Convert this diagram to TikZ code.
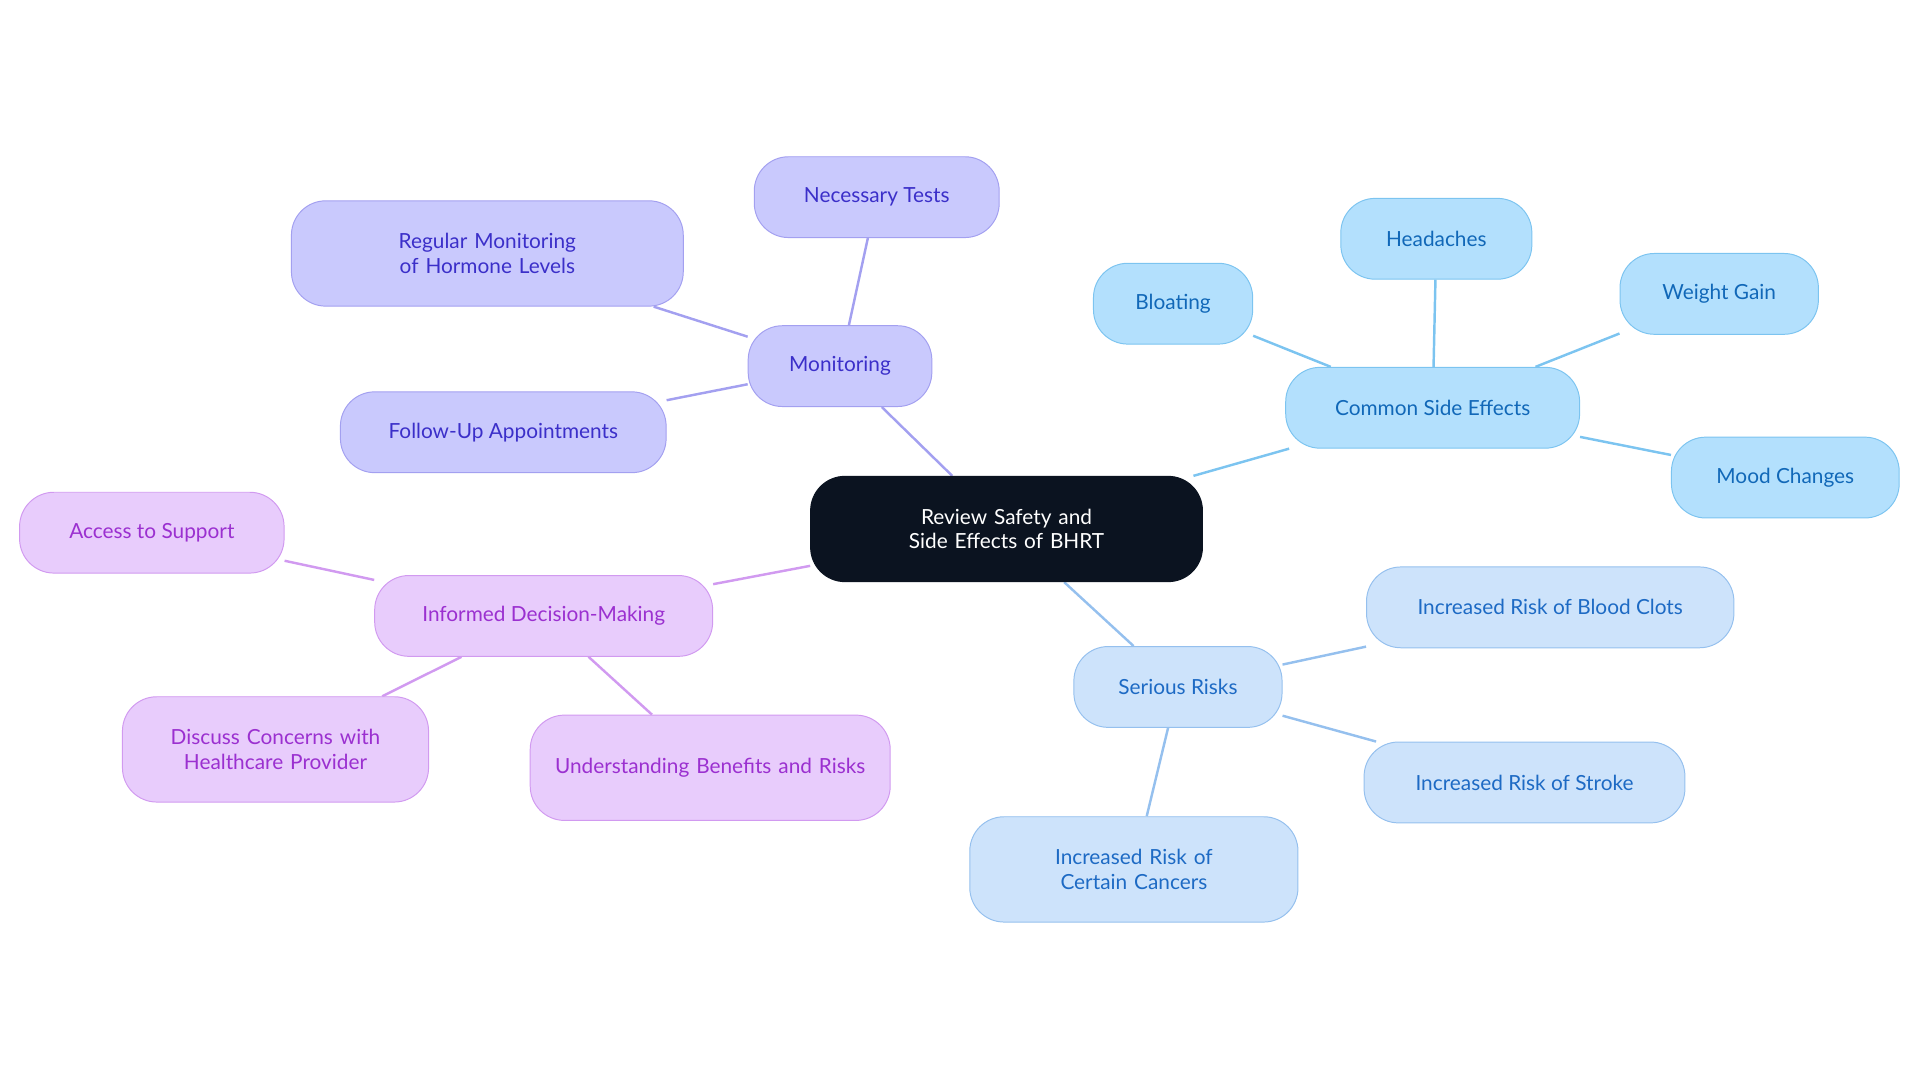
\documentclass[tikz,border=0pt]{standalone}
\usepackage{fontspec}
\setmainfont{Lato}
\usetikzlibrary{backgrounds}
\definecolor{rootf}{HTML}{0B1320}
\definecolor{pf}{HTML}{C9C9FD}\definecolor{pd}{HTML}{A3A0F0}\definecolor{pt}{HTML}{3B2FC9}
\definecolor{bf}{HTML}{B3E0FD}\definecolor{bd}{HTML}{7CC4F0}\definecolor{bt}{HTML}{1168B8}
\definecolor{sf}{HTML}{CDE3FB}\definecolor{sd}{HTML}{95C0EE}\definecolor{st}{HTML}{1D6AC4}
\definecolor{mf}{HTML}{E8CCFC}\definecolor{md}{HTML}{D19AF0}\definecolor{mt}{HTML}{9B30D0}
\tikzset{
 box/.style={rounded corners=28pt,draw,line width=0.8pt,align=center,inner sep=0pt,font=\fontsize{17}{20}\selectfont},
 pbox/.style={box,fill=pf,draw=pd,text=pt},
 bbox/.style={box,fill=bf,draw=bd,text=bt},
 sbox/.style={box,fill=sf,draw=sd,text=st},
 mbox/.style={box,fill=mf,draw=md,text=mt},
 pe/.style={draw=pd,line width=2pt},
 be/.style={draw=bd,line width=2pt},
 se/.style={draw=sd,line width=2pt},
 me/.style={draw=md,line width=2pt},
}
\begin{document}
\begin{tikzpicture}[x=1pt,y=-1pt]
\useasboundingbox (0,0) rectangle (1568,884);
\node[box,fill=rootf,draw=rootf,text=white,minimum width=320,minimum height=86,text width=290] (root) at (822,432) {Review Safety and Side Effects of BHRT};
\node[pbox,minimum width=150,minimum height=66] (mon) at (686,299) {Monitoring};
\node[pbox,minimum width=200,minimum height=66] (nt) at (716,161) {Necessary Tests};
\node[pbox,minimum width=320,minimum height=86,text width=290] (rm) at (398,207) {Regular Monitoring of Hormone Levels};
\node[pbox,minimum width=266,minimum height=66] (fu) at (411,353) {Follow-Up Appointments};
\node[bbox,minimum width=240,minimum height=66] (cse) at (1170,333) {Common Side Effects};
\node[bbox,minimum width=130,minimum height=66] (bl) at (958,248) {Bloating};
\node[bbox,minimum width=156,minimum height=66] (he) at (1173,195) {Headaches};
\node[bbox,minimum width=162,minimum height=66] (wg) at (1404,240) {Weight Gain};
\node[bbox,minimum width=186,minimum height=66] (mc) at (1458,390) {Mood Changes};
\node[sbox,minimum width=170,minimum height=66] (sr) at (962,561) {Serious Risks};
\node[sbox,minimum width=300,minimum height=66] (bc) at (1266,496) {Increased Risk of Blood Clots};
\node[sbox,minimum width=262,minimum height=66] (str) at (1245,639) {Increased Risk of Stroke};
\node[sbox,minimum width=268,minimum height=86,text width=240] (can) at (926,710) {Increased Risk of Certain Cancers};
\node[mbox,minimum width=276,minimum height=66] (idm) at (444,503) {Informed Decision-Making};
\node[mbox,minimum width=216,minimum height=66] (acc) at (124,435) {Access to Support};
\node[mbox,minimum width=250,minimum height=86,text width=220] (dis) at (225,612) {Discuss Concerns with Healthcare Provider};
\node[mbox,minimum width=294,minimum height=86,text width=260] (und) at (580,627) {Understanding Benefits and Risks};
\begin{scope}[on background layer]
\draw[pe] (root)--(mon); \draw[pe] (mon)--(nt); \draw[pe] (mon)--(rm); \draw[pe] (mon)--(fu);
\draw[be] (root)--(cse); \draw[be] (cse)--(bl); \draw[be] (cse)--(he); \draw[be] (cse)--(wg); \draw[be] (cse)--(mc);
\draw[se] (root)--(sr); \draw[se] (sr)--(bc); \draw[se] (sr)--(str); \draw[se] (sr)--(can);
\draw[me] (root)--(idm); \draw[me] (idm)--(acc); \draw[me] (idm)--(dis); \draw[me] (idm)--(und);
\end{scope}
\end{tikzpicture}
\end{document}
